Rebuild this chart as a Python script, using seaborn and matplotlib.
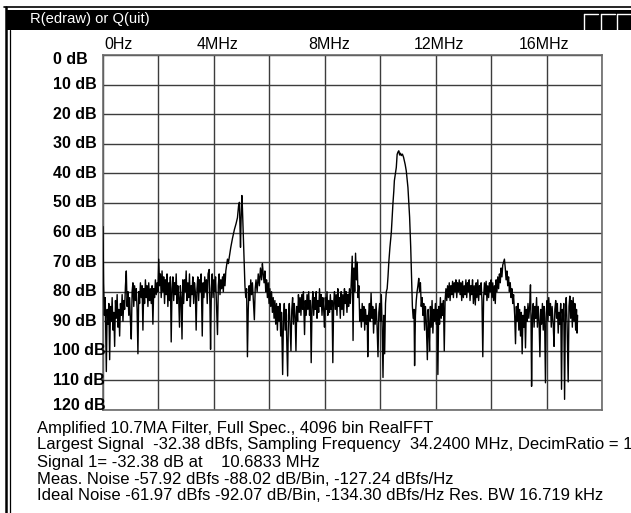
import numpy as np
import pandas as pd
import matplotlib
matplotlib.use("Agg")
import matplotlib.pyplot as plt
import matplotlib.transforms as mtransforms
from matplotlib.patches import Rectangle
from matplotlib.lines import Line2D
import seaborn as sns

# ---------------- data (frequency MHz, level dB below FS) -------------
SEG_LOW_BAND = [(0.00,58),(0.02,77),(0.05,88),(0.08,82),(0.12,107),(0.15,86),(0.18,91),(0.21,84),(0.24,103),(0.27,85),(0.30,90),(0.33,82),(0.36,93),(0.39,87),(0.42,98.5),(0.45,83),(0.48,89),(0.51,81),(0.54,92),(0.57,86),(0.60,95),(0.63,84),(0.66,88),(0.69,81),(0.72,90),(0.75,83),(0.78,86),(0.81,78),(0.84,73),(0.87,85),(0.90,80),(0.93,88),(0.96,82),(0.99,90),(1.02,96),(1.05,80),(1.08,77),(1.11,85),(1.14,78),(1.17,83),(1.20,79),(1.23,86),(1.26,101),(1.29,80),(1.32,84),(1.35,77),(1.38,82),(1.41,78),(1.44,93),(1.47,79),(1.50,84),(1.53,76),(1.56,82),(1.59,78),(1.62,85),(1.65,77),(1.68,83),(1.71,79),(1.74,84),(1.77,78),(1.80,91),(1.83,79),(1.86,82),(1.89,76),(1.92,81),(1.95,77),(1.98,80),(2.01,69)]
SEG_2_4MHZ = [(2.04,78),(2.07,74),(2.10,82),(2.13,73),(2.16,80),(2.19,75),(2.22,84),(2.25,76),(2.28,81),(2.31,74),(2.34,85),(2.37,77),(2.40,83),(2.43,75),(2.46,97),(2.49,79),(2.52,75),(2.55,83),(2.58,77),(2.61,81),(2.64,74),(2.67,84),(2.70,78),(2.73,82),(2.76,92),(2.79,78),(2.82,82),(2.85,96),(2.88,76),(2.91,84),(2.94,76),(2.97,80),(3.00,73),(3.03,83),(3.06,77),(3.09,82),(3.12,74),(3.15,85),(3.18,78),(3.21,81),(3.24,75),(3.27,84),(3.30,77),(3.33,80),(3.36,93),(3.39,79),(3.42,75),(3.45,83),(3.48,76),(3.51,80),(3.54,74),(3.58,95),(3.61,77),(3.64,82),(3.67,75),(3.70,80),(3.73,76),(3.76,84),(3.79,74),(3.83,72.5),(3.86,86),(3.88,99.5),(3.91,79),(3.94,74),(3.97,82),(4.00,76),(4.03,80),(4.06,75),(4.09,83),(4.13,94.5),(4.16,78),(4.19,74),(4.22,81),(4.25,76),(4.28,79),(4.31,75),(4.34,80),(4.37,74),(4.40,78),(4.43,73)]
SEG_5MHZ_PEAK = [(4.46,71),(4.49,69),(4.52,70.5),(4.56,68),(4.61,65),(4.67,62),(4.74,59),(4.80,57),(4.85,55),(4.89,51),(4.92,49.8),(4.94,57),(4.96,65),(4.98,56),(5.01,47.5),(5.03,52),(5.06,61),(5.09,70),(5.12,78),(5.15,82),(5.18,79),(5.21,102),(5.24,86),(5.27,78),(5.30,83),(5.33,76),(5.36,81),(5.39,77),(5.43,84),(5.46,89.5),(5.49,79),(5.52,76),(5.56,80),(5.60,74),(5.64,78),(5.68,72),(5.72,76),(5.75,70.5),(5.78,74)]
SEG_6_7MHZ = [(5.81,77),(5.84,73),(5.87,80),(5.90,76),(5.93,82),(5.96,77),(5.99,84),(6.02,79),(6.05,85),(6.08,80),(6.11,87),(6.14,82),(6.17,89),(6.20,83),(6.23,91),(6.26,84),(6.29,93),(6.32,85),(6.35,90),(6.38,84),(6.41,95),(6.44,87),(6.48,108),(6.51,89),(6.54,84),(6.57,93),(6.60,86),(6.63,97),(6.66,108.5),(6.69,88),(6.72,84),(6.75,92),(6.78,100),(6.81,86),(6.84,82),(6.87,91),(6.90,84),(6.93,88),(6.96,100),(6.99,85),(7.02,90),(7.05,81),(7.08,87)]
SEG_7_9MHZ = [(7.11,82),(7.14,88),(7.17,81),(7.20,86),(7.23,80),(7.27,94.5),(7.30,83),(7.33,88),(7.36,81),(7.39,86),(7.42,80),(7.45,88),(7.48,83),(7.51,104),(7.54,85),(7.57,80),(7.60,88),(7.63,82),(7.66,86),(7.69,80),(7.72,89),(7.75,83),(7.78,87),(7.81,79),(7.84,85),(7.87,81),(7.90,88),(7.93,82),(7.96,86),(7.99,92),(8.02,82),(8.05,86),(8.08,80),(8.11,88),(8.14,83),(8.17,87),(8.20,81),(8.23,86),(8.26,83),(8.29,104),(8.32,84),(8.35,80),(8.38,86),(8.41,81),(8.44,88),(8.47,79),(8.50,85),(8.53,82),(8.56,89),(8.59,80),(8.62,86),(8.65,81),(8.68,88),(8.71,79),(8.74,84),(8.77,80),(8.80,87),(8.83,81),(8.86,85),(8.89,79),(8.92,84),(8.95,78)]
SEG_9_10MHZ = [(8.99,68),(9.02,96.5),(9.05,72),(9.08,80),(9.11,67),(9.14,76),(9.17,70),(9.20,82),(9.23,78),(9.26,90),(9.29,86),(9.32,92),(9.35,84),(9.38,90),(9.41,85),(9.44,93),(9.47,86),(9.50,91),(9.53,88),(9.55,102),(9.58,88),(9.61,84),(9.64,90),(9.67,80.5),(9.70,89),(9.73,85),(9.76,94),(9.79,86),(9.82,91),(9.85,84),(9.88,90),(9.92,102),(9.95,87),(9.98,84),(10.01,90),(10.04,81),(10.07,92),(10.10,109),(10.13,88),(10.16,101),(10.19,84),(10.22,80)]
SEG_MAIN_PEAK = [(10.25,79),(10.28,75),(10.31,70),(10.35,65),(10.40,60),(10.43,55),(10.46,50),(10.49,46),(10.51,42.5),(10.55,40),(10.58,38),(10.61,33.6),(10.64,32.8),(10.67,32.38),(10.70,33.8),(10.73,33.2),(10.76,34.0),(10.80,33.5),(10.84,34.5),(10.90,37),(10.94,39.2),(10.97,42),(11.00,44.8),(11.03,50),(11.06,54.8),(11.08,60),(11.10,65),(11.13,75),(11.16,85)]
SEG_11_12MHZ = [(11.19,89),(11.22,86),(11.24,105),(11.27,88),(11.30,83),(11.33,80),(11.36,78),(11.39,75.5),(11.42,80),(11.45,77),(11.48,85),(11.51,82),(11.54,88),(11.57,84),(11.60,93),(11.63,85),(11.66,90),(11.70,103),(11.73,86),(11.75,91),(11.78,100),(11.81,85),(11.84,92),(11.87,83),(11.90,94),(11.93,86),(11.96,90),(11.99,84),(12.02,91),(12.05,86),(12.08,108),(12.11,85),(12.14,91),(12.17,82),(12.20,89),(12.23,84),(12.26,88),(12.28,83),(12.31,100),(12.34,83),(12.37,79)]
SEG_12_14MHZ = [(12.40,83),(12.43,78),(12.46,82),(12.49,77),(12.52,83),(12.55,78),(12.58,81),(12.61,76.5),(12.64,82),(12.67,77),(12.70,80),(12.73,76),(12.76,82),(12.79,77),(12.82,80),(12.85,76),(12.88,81),(12.91,77),(12.94,83),(12.97,76.5),(13.00,82),(13.03,78),(13.06,81),(13.09,76),(13.12,82),(13.15,77),(13.18,80),(13.21,76),(13.24,83),(13.27,78),(13.30,81),(13.33,76),(13.36,84),(13.39,78),(13.43,84.5),(13.46,77),(13.49,82),(13.52,76),(13.55,83),(13.58,78),(13.61,81),(13.64,77),(13.67,83),(13.70,102),(13.73,82),(13.76,77),(13.79,81),(13.82,76.5),(13.85,83),(13.88,78),(13.91,82),(13.94,77),(13.97,80),(14.00,76),(14.03,82),(14.06,77),(14.09,83),(14.12,78),(14.15,84),(14.18,76),(14.21,80),(14.24,75),(14.27,79),(14.30,74)]
SEG_14_5MHZ_PEAK = [(14.33,77),(14.36,72),(14.39,75),(14.42,71),(14.45,70),(14.48,69),(14.51,72),(14.54,76),(14.57,73),(14.60,78),(14.63,75),(14.66,80),(14.69,77),(14.72,82),(14.75,79),(14.78,84),(14.81,81)]
SEG_15MHZ = [(14.85,88),(14.88,97.6),(14.91,85),(14.94,90),(14.97,84),(15.00,93),(15.03,86),(15.06,95),(15.09,87),(15.12,101),(15.15,88),(15.18,92),(15.21,85),(15.24,99),(15.27,86),(15.30,90),(15.33,84),(15.36,89),(15.39,85),(15.42,77.7)]
SEG_HIGH_BAND = [(15.44,90),(15.46,112),(15.49,88),(15.52,84),(15.55,92),(15.58,85),(15.61,89),(15.64,82),(15.67,92),(15.70,85),(15.73,90),(15.76,102),(15.79,86),(15.82,91),(15.85,84),(15.88,93),(15.91,85),(15.93,89),(15.96,110.8),(15.99,87),(16.02,83),(16.05,90),(16.08,82),(16.11,88),(16.14,84),(16.17,92),(16.20,85),(16.24,91),(16.27,98.5),(16.30,86),(16.33,83),(16.36,89),(16.39,84),(16.42,94),(16.45,87),(16.48,91),(16.51,84),(16.54,113),(16.57,86),(16.60,90),(16.62,84),(16.65,116.4),(16.68,88),(16.71,82),(16.74,91),(16.78,110.5),(16.81,85),(16.84,81.5),(16.87,89),(16.90,83),(16.93,92),(16.96,82),(16.99,90),(17.02,84),(17.05,93),(17.08,86),(17.10,94),(17.12,88)]

X_TICK_MHZ = [0, 4, 8, 12, 16]
X_TICK_LABELS = ["0Hz", "4MHz", "8MHz", "12MHz", "16MHz"]
X_GRID_MHZ = [0, 2, 4, 6, 8, 10, 12, 14, 16, 18]
Y_TICK_DB = [0, 10, 20, 30, 40, 50, 60, 70, 80, 90, 100, 110, 120]
Y_TICK_LABELS = [f"{v} dB" for v in Y_TICK_DB]

TITLE = "R(edraw) or Q(uit)"
INFO_LINES = [
    "Amplified 10.7MA Filter, Full Spec., 4096 bin RealFFT",
    "Largest Signal  -32.38 dBfs, Sampling Frequency  34.2400 MHz, DecimRatio = 1",
    "Signal 1= -32.38 dB at    10.6833 MHz",
    "Meas. Noise -57.92 dBfs -88.02 dB/Bin, -127.24 dBfs/Hz",
    "Ideal Noise -61.97 dBfs -92.07 dB/Bin, -134.30 dBfs/Hz Res. BW 16.719 kHz",
]

# ---------------------------------------------------------------------------------------------
segments = [SEG_LOW_BAND, SEG_2_4MHZ, SEG_5MHZ_PEAK, SEG_6_7MHZ, SEG_7_9MHZ, SEG_9_10MHZ,
            SEG_MAIN_PEAK, SEG_11_12MHZ, SEG_12_14MHZ, SEG_14_5MHZ_PEAK, SEG_15MHZ, SEG_HIGH_BAND]
pairs = [p for seg in segments for p in seg]
df = pd.DataFrame(pairs, columns=["MHz", "dB"])

sns.set_style("white")
plt.rcParams["font.family"] = ["Liberation Sans", "DejaVu Sans"]

W, H = 631, 513
fig = plt.figure(figsize=(W / 100, H / 100), dpi=100)
fig.patch.set_facecolor("white")


def fx(x):
    return x / W


def fy(y):
    return 1 - y / H


# window chrome
fig.add_artist(Rectangle((fx(7), fy(30)), fx(631) - fx(7), fy(10) - fy(30),
                         transform=fig.transFigure, facecolor="black", edgecolor="none"))
fig.add_artist(Line2D([fx(4), fx(631)], [fy(7), fy(7)], transform=fig.transFigure,
                      color="black", lw=1.2))
fig.add_artist(Line2D([fx(5.5), fx(5.5)], [fy(7), fy(513)], transform=fig.transFigure,
                      color="black", lw=1.8))
fig.add_artist(Line2D([fx(9.5), fx(9.5)], [fy(30), fy(513)], transform=fig.transFigure,
                      color="black", lw=0.9))
for x0 in (584, 601, 617):
    fig.add_artist(Line2D([fx(x0), fx(x0 + 14)], [fy(14), fy(14)], transform=fig.transFigure,
                          color="white", lw=1.0))
    fig.add_artist(Line2D([fx(x0), fx(x0)], [fy(14), fy(30)], transform=fig.transFigure,
                          color="white", lw=1.0))
fig.text(fx(30), fy(19.5), TITLE, color="white", fontsize=10.6, va="center", ha="left")

# plot area
ax = fig.add_axes([fx(103), fy(410), (602 - 103) / W, (410 - 55) / H])
ax.set_facecolor("white")
sns.lineplot(data=df, x="MHz", y="dB", ax=ax, color="black", linewidth=1.0,
             estimator=None, sort=False, zorder=3)
ax.set_xlim(0, 18)
ax.set_ylim(120, 0)
ax.set_xticks(X_GRID_MHZ)
ax.set_yticks(Y_TICK_DB)
ax.tick_params(length=0, labelbottom=False, labelleft=False)
ax.set_xlabel("")
ax.set_ylabel("")
ax.grid(True, color="#3c3c3c", linewidth=1.0, zorder=1)
for s in ax.spines.values():
    s.set_color("#6a6a6a")
    s.set_linewidth(1.2)

# x labels on top
xt = mtransforms.blended_transform_factory(ax.transData, ax.transAxes)
x_offsets = [1, 4, 4, 3, -3]
for v, lab, dx in zip(X_TICK_MHZ, X_TICK_LABELS, x_offsets):
    ha = "left" if v == 0 else "center"
    tr = mtransforms.offset_copy(xt, fig=fig, x=dx, y=6, units="dots")
    ax.text(v, 1.0, lab, transform=tr, ha=ha, va="baseline", fontsize=11.5,
            color="black", clip_on=False)

# y labels, left aligned
yt = mtransforms.blended_transform_factory(ax.transAxes, ax.transData)
for v, lab in zip(Y_TICK_DB, Y_TICK_LABELS):
    dy = 0
    if v == Y_TICK_DB[0]:
        dy = -5
    elif v == Y_TICK_DB[-1]:
        dy = 5
    tr = mtransforms.offset_copy(yt, fig=fig, x=0, y=dy, units="dots")
    ax.text((53 - 103) / 499, v, lab, transform=tr, ha="left", va="center",
            fontsize=11.5, fontweight="bold", color="black", clip_on=False)

# info text
for i, line in enumerate(INFO_LINES):
    fig.text(fx(37), fy(428 + i * 17), line, fontsize=12, va="center", ha="left",
             color="black")

fig.savefig("out.png", dpi=100)
